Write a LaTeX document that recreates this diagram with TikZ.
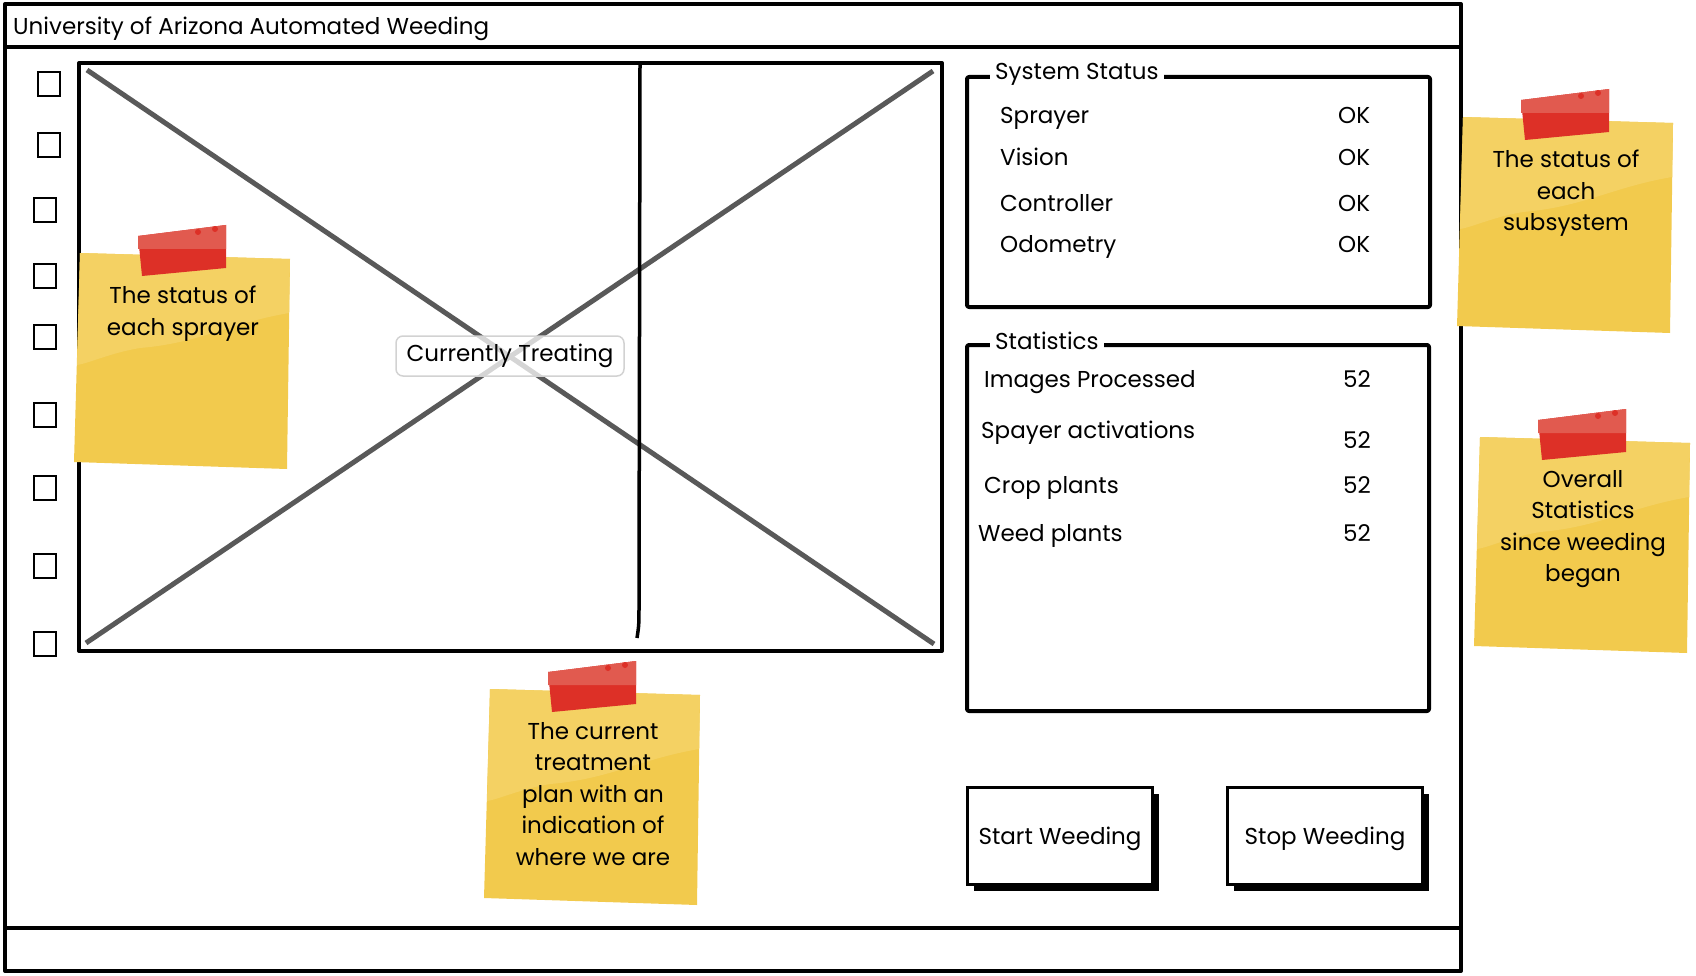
\documentclass[tikz,border=0pt]{standalone}
\usepackage{fontspec}
\setmainfont{Poppins}
\usetikzlibrary{positioning,shadows}

\definecolor{noteyellow}{HTML}{F2CA4D}
\definecolor{notelight}{HTML}{F4D163}
\definecolor{tapered}{HTML}{DD3027}
\definecolor{tapelight}{HTML}{E15A4F}
\definecolor{crossgray}{HTML}{595959}

\tikzset{
  sketch/.style={draw=black, line width=4pt, line join=round},
  checkbox/.style={draw=black, line width=2.5pt, minimum width=22pt, minimum height=24pt, inner sep=0pt},
  lbl/.style={anchor=base west, inner sep=0pt, font=\fontsize{23}{28}\selectfont},
  boxtitle/.style={anchor=base west, fill=white, inner xsep=5pt, inner ysep=2pt, font=\fontsize{23}{28}\selectfont},
  notetext/.style={anchor=north, align=center, inner sep=0pt, font=\fontsize{23}{31.5}\selectfont},
  button/.style={draw=black, fill=white, line width=3pt, minimum height=97pt,
    text height=16pt, text depth=0pt, font=\fontsize{23}{28}\selectfont,
    drop shadow={shadow xshift=6pt, shadow yshift=-6pt, fill=black, opacity=1}},
}

% sticky note: name, top left corner, text
\newcommand{\stickynote}[3]{%
  \begin{scope}[shift={#2}]
    \fill[noteyellow] (0,0) -- (210,6) -- (207,216) -- (-6,209) -- cycle;
    \fill[notelight] (0,0) -- (210,6) -- (209,60) .. controls (150,70) and (120,90) .. (60,95)
      .. controls (30,100) and (10,110) .. (-3,112) -- cycle;
    \fill[tapered] (58,-17) -- (146,-28) -- (146,15) -- (62,23) -- cycle;
    \fill[tapelight] (58,-17) -- (146,-28) -- (146,-4) -- (58,-4) -- cycle;
    \fill[tapered] (118,-21) circle (3) (135,-24) circle (3);
    \node[notetext] (#1) at (103,33) {#3};
  \end{scope}}

\begin{document}
\begin{tikzpicture}[x=1pt, y=-1pt]
  \useasboundingbox (0,0) rectangle (1696,976);

  % window frame
  \draw[sketch] (5,4) rectangle (1461,971);
  \draw[sketch] (5,47) -- (1461,47);
  \draw[sketch] (5,928) -- (1461,928);
  \node[lbl] (title) at (13,35) {University of Arizona Automated Weeding};

  % sprayer check boxes
  \foreach \x/\y [count=\i] in {49/84, 49/145, 45/210, 45/276, 45/337, 45/415, 45/488, 45/566, 45/644}
    \node[checkbox] (spray\i) at (\x,\y) {};

  % treatment plan image
  \draw[sketch] (79,63) rectangle (942,651);
  \draw[crossgray, line width=5pt] (87,70) -- (934,644);
  \draw[crossgray, line width=5pt] (86,643) -- (933,71);
  \draw[black, line width=3.5pt] (640,63) -- (639,600) .. controls (639,625) .. (637,638);
  \node[draw=gray!35, line width=1.5pt, rounded corners=7pt, fill=white, fill opacity=0.75,
    text opacity=1, minimum width=228pt, minimum height=40pt, inner sep=0pt,
    font=\fontsize{23}{28}\selectfont] (treating) at (510,356) {Currently Treating};

  % system status
  \draw[sketch, rounded corners=2pt] (967,77) rectangle (1430,307);
  \node[boxtitle] (status) at (990,80) {System Status};
  \foreach \name/\y [count=\i] in {Sprayer/124, Vision/166, Controller/212, Odometry/253} {
    \node[lbl] (sys\i) at (1000,\y) {\name};
    \node[lbl] (ok\i) at (1338,\y) {OK};
  }

  % statistics
  \draw[sketch, rounded corners=2pt] (967,345) rectangle (1429,711);
  \node[boxtitle] (stats) at (990,349) {Statistics};
  \foreach \name/\x/\y/\v [count=\i] in {Images Processed/984/387/387, Spayer activations/981/438/448,
      Crop plants/984/493/493, Weed plants/978/541/541} {
    \node[lbl] (stat\i) at (\x,\y) {\name};
    \node[lbl] (val\i) at (1343,\v) {52};
  }

  % buttons
  \node[button, minimum width=185pt] (start) at (1060,836) {Start Weeding};
  \node[button, minimum width=195pt] (stop) at (1325,836) {Stop Weeding};

  % notes
  \stickynote{notesprayer}{(80,253)}{The status of\\each sprayer}
  \stickynote{noteplan}{(490,689)}{The current\\treatment\\plan with an\\indication of\\where we are}
  \stickynote{notesystem}{(1463,117)}{The status of\\each\\subsystem}
  \stickynote{notestats}{(1480,437)}{Overall\\Statistics\\since weeding\\began}
\end{tikzpicture}
\end{document}
